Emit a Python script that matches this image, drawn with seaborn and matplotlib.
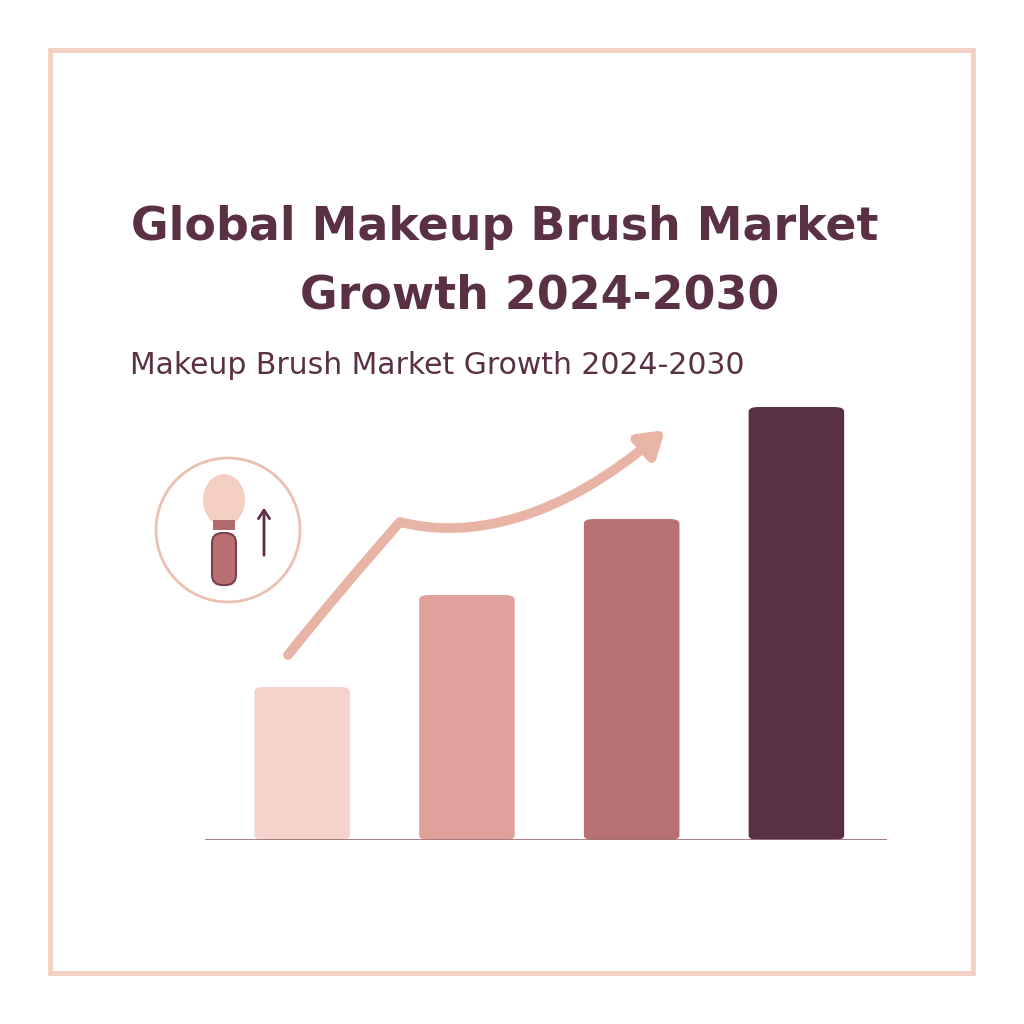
import matplotlib.pyplot as plt
import seaborn as sns
import pandas as pd
from matplotlib.patches import FancyBboxPatch, Rectangle, Circle, Ellipse, FancyArrowPatch
from matplotlib.path import Path

# market size index, relative units
years = ["2024", "2026", "2028", "2030"]
values = [1.53, 2.45, 3.21, 4.33]
colors = ["#f6d3ca", "#e0a19b", "#b87173", "#5a3045"]

plum = "#5a3045"
peach = "#f3d2c4"

fig = plt.figure(figsize=(10.24, 10.24), dpi=100)
fig.patch.set_facecolor("white")

def px(x, y):
    return (x / 1024, 1 - y / 1024)

# frame
fig.patches.append(Rectangle(px(50, 973), 923 / 1024, 923 / 1024, transform=fig.transFigure,
                             fill=False, edgecolor=peach, lw=3.5))

fig.text(*px(505, 228), "Global Makeup Brush Market", ha="center", va="center",
         fontsize=33, fontweight="bold", color=plum, family="DejaVu Sans")
fig.text(*px(540, 296), "Growth 2024-2030", ha="center", va="center",
         fontsize=33, fontweight="bold", color=plum, family="DejaVu Sans")
fig.text(*px(130, 365), "Makeup Brush Market Growth 2024-2030", ha="left", va="center",
         fontsize=21.5, color=plum, family="DejaVu Sans")

ax = fig.add_axes([205 / 1024, (1024 - 840) / 1024, 682 / 1024, 460 / 1024])
df = pd.DataFrame({"year": years, "value": values})
sns.barplot(data=df, x="year", y="value", hue="year", palette=colors, legend=False,
            width=0.58, saturation=1, ax=ax)
ax.set_xlim(-0.59, 3.55)
ax.set_ylim(0, 4.6)
for p in list(ax.patches):
    x, y = p.get_x(), p.get_y()
    w, h = p.get_width(), p.get_height()
    fc = p.get_facecolor()
    p.set_visible(False)
    ax.add_patch(FancyBboxPatch((x, y), w, h, boxstyle="round,pad=0,rounding_size=0.06",
                                mutation_aspect=0.75, facecolor=fc, edgecolor="none"))
ax.set_axis_off()
ax.axhline(0, color="#a0707a", lw=2)

# trend arrow
verts = [px(288, 655), px(340, 590), px(400, 522), px(470, 540), px(560, 520), px(665, 430)]
codes = [Path.MOVETO, Path.CURVE3, Path.CURVE3, Path.CURVE4, Path.CURVE4, Path.CURVE4]
fig.patches.append(FancyArrowPatch(path=Path(verts, codes), transform=fig.transFigure,
                                   arrowstyle="-|>,head_length=14,head_width=9",
                                   color="#e8b4a6", lw=7))

# icon
fig.patches.append(Circle(px(228, 530), 72 / 1024, transform=fig.transFigure,
                          fill=False, edgecolor="#ecc0b0", lw=2))
fig.patches.append(Ellipse(px(224, 500), 42 / 1024, 52 / 1024, transform=fig.transFigure,
                           facecolor="#f4cfc2", edgecolor="none"))
fig.patches.append(Rectangle(px(213, 530), 22 / 1024, 10 / 1024, transform=fig.transFigure,
                             facecolor="#b06a6e"))
fig.patches.append(FancyBboxPatch(px(212, 585), 24 / 1024, 52 / 1024, transform=fig.transFigure,
                                  boxstyle="round,pad=0,rounding_size=0.01",
                                  facecolor="#b86f72", edgecolor="#7a4050", lw=1.5))
fig.patches.append(FancyArrowPatch(px(264, 558), px(264, 505), transform=fig.transFigure,
                                   arrowstyle="->,head_length=6,head_width=4", color=plum, lw=2))

fig.savefig("out.png", dpi=100)
